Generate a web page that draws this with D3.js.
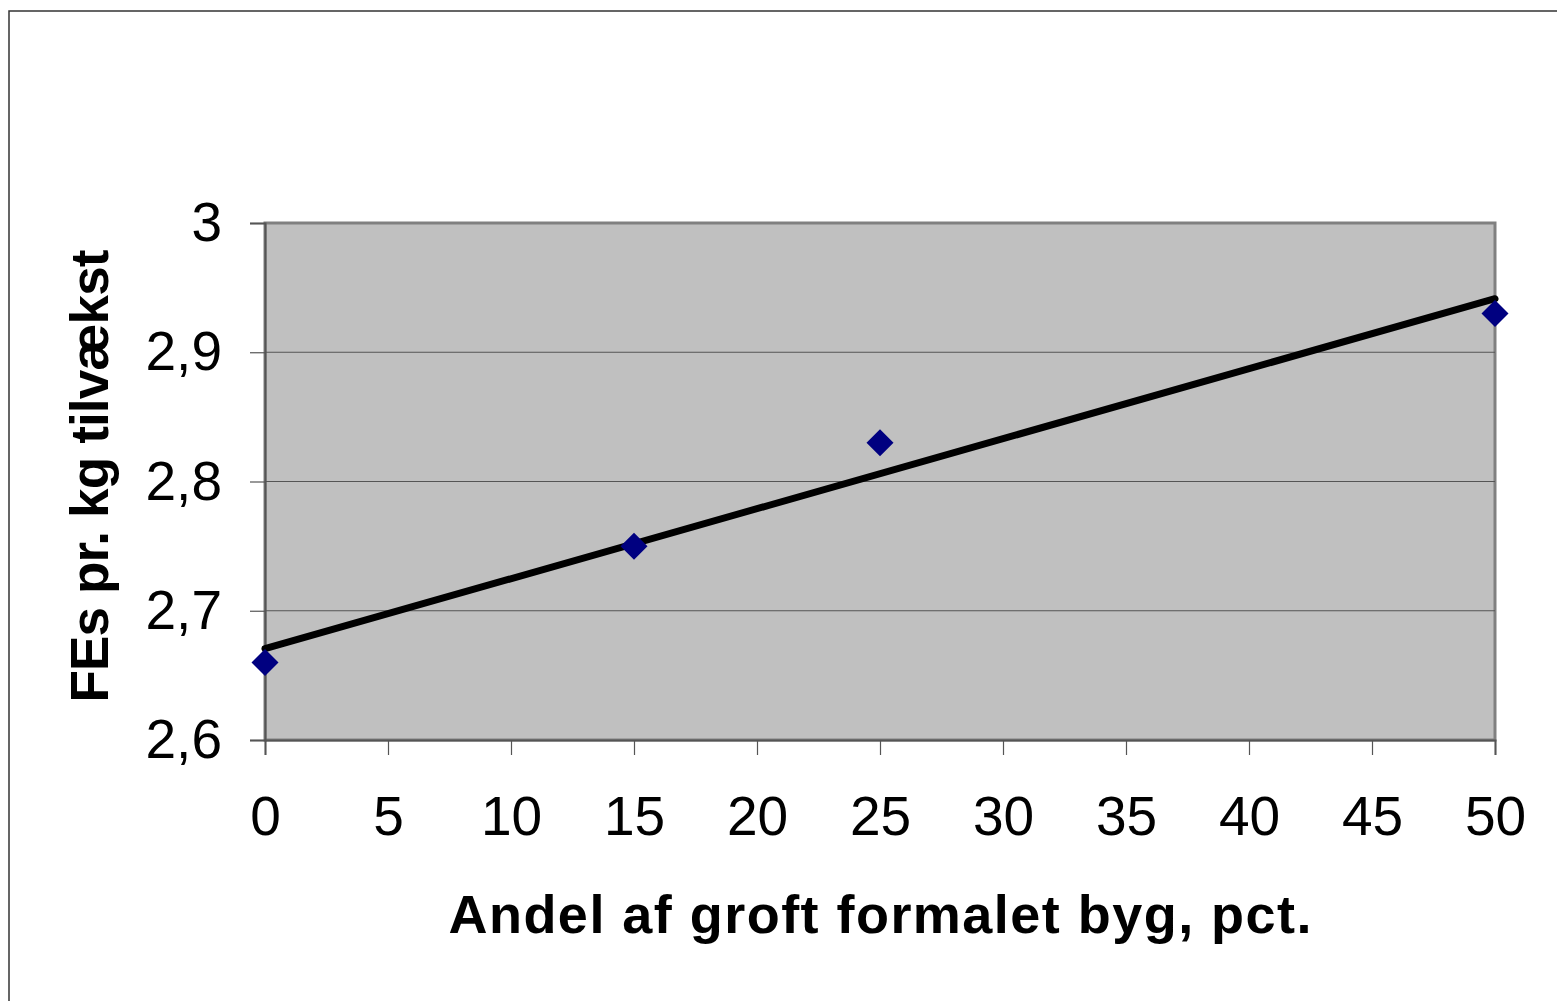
<!DOCTYPE html>
<html>
<head>
<meta charset="utf-8">
<script src="https://cdn.jsdelivr.net/npm/d3@7"></script>
<style>
  body { margin: 0; background: #fff; }
  svg { display: block; }
  text { font-family: "Liberation Sans", Arial, sans-serif; }
</style>
</head>
<body>
<svg id="chart" width="1557" height="1001"></svg>
<script>
// andel groft formalet byg (pct.) og FEs pr. kg tilvaekst
var andel = [0, 15, 25, 50];
var fes = [2.66, 2.75, 2.83, 2.93];
var xTicks = [0, 5, 10, 15, 20, 25, 30, 35, 40, 45, 50];
var yTicks = [2.6, 2.7, 2.8, 2.9, 3.0];

var svg = d3.select("#chart");
var plot = { left: 265, top: 223, right: 1495, bottom: 740 };

var x = d3.scaleLinear().domain([0, 50]).range([plot.left, plot.right]);
var y = d3.scaleLinear().domain([2.6, 3.0]).range([plot.bottom, plot.top]);

// outer chart frame
svg.append("rect")
    .attr("x", 9).attr("y", 11)
    .attr("width", 1600).attr("height", 1100)
    .attr("fill", "#fff").attr("stroke", "#333").attr("stroke-width", 1.5);

// plot area
svg.append("rect")
    .attr("x", plot.left).attr("y", plot.top)
    .attr("width", plot.right - plot.left).attr("height", plot.bottom - plot.top)
    .attr("fill", "#c0c0c0").attr("stroke", "#808080").attr("stroke-width", 3);

// gridlines
svg.append("g").selectAll("line")
    .data(yTicks.slice(1, -1))
    .join("line")
    .attr("x1", plot.left).attr("x2", plot.right)
    .attr("y1", d => y(d)).attr("y2", d => y(d))
    .attr("stroke", "#555").attr("stroke-width", 1.2);

var fmt = d => d3.format(".1~f")(d).replace(".", ",");

// y axis
var yAxis = svg.append("g")
    .attr("transform", "translate(" + plot.left + ",0)")
    .call(d3.axisLeft(y).tickValues(yTicks).tickFormat(fmt).tickSize(15).tickPadding(28));
yAxis.select(".domain").attr("stroke", "#555").attr("stroke-width", 2);
yAxis.selectAll(".tick line").attr("stroke", "#555").attr("stroke-width", 1.2);
yAxis.selectAll(".tick text").attr("font-size", 55).attr("fill", "#000")
    .attr("font-family", "Liberation Sans, Arial, sans-serif");

// x axis
var xAxis = svg.append("g")
    .attr("transform", "translate(0," + plot.bottom + ")")
    .call(d3.axisBottom(x).tickValues(xTicks).tickSize(15).tickPadding(41));
xAxis.select(".domain").attr("stroke", "#555").attr("stroke-width", 2);
xAxis.selectAll(".tick line").attr("stroke", "#555").attr("stroke-width", 1.2);
xAxis.selectAll(".tick text").attr("font-size", 55).attr("fill", "#000")
    .attr("font-family", "Liberation Sans, Arial, sans-serif");

// linear trendline (least squares, like the spreadsheet trendline)
var mx = d3.mean(andel), my = d3.mean(fes);
var sxy = d3.sum(andel, (d, i) => (d - mx) * (fes[i] - my));
var sxx = d3.sum(andel, d => (d - mx) * (d - mx));
var slope = sxy / sxx, icpt = my - slope * mx;
var trendX = x.domain();

svg.append("path")
    .datum(trendX)
    .attr("d", d3.line().x(d => x(d)).y(d => y(icpt + slope * d)))
    .attr("stroke", "#000").attr("stroke-width", 7).attr("stroke-linecap", "round")
    .attr("fill", "none");

// markers
svg.append("g").selectAll("path")
    .data(andel)
    .join("path")
    .attr("transform", (d, i) => "translate(" + x(d) + "," + y(fes[i]) + ")")
    .attr("d", "M0,-13.5L13.5,0L0,13.5L-13.5,0Z")
    .attr("fill", "#000080");

// axis titles
svg.append("text")
    .attr("x", 880).attr("y", 933)
    .attr("text-anchor", "middle")
    .attr("font-size", 54).attr("font-weight", "bold")
    .attr("textLength", 863).attr("lengthAdjust", "spacing")
    .text("Andel af groft formalet byg, pct.");

svg.append("text")
    .attr("transform", "translate(108,476) rotate(-90)")
    .attr("text-anchor", "middle")
    .attr("font-size", 53).attr("font-weight", "bold")
    .attr("textLength", 453).attr("lengthAdjust", "spacing")
    .text("FEs pr. kg tilvækst");
</script>
</body>
</html>
